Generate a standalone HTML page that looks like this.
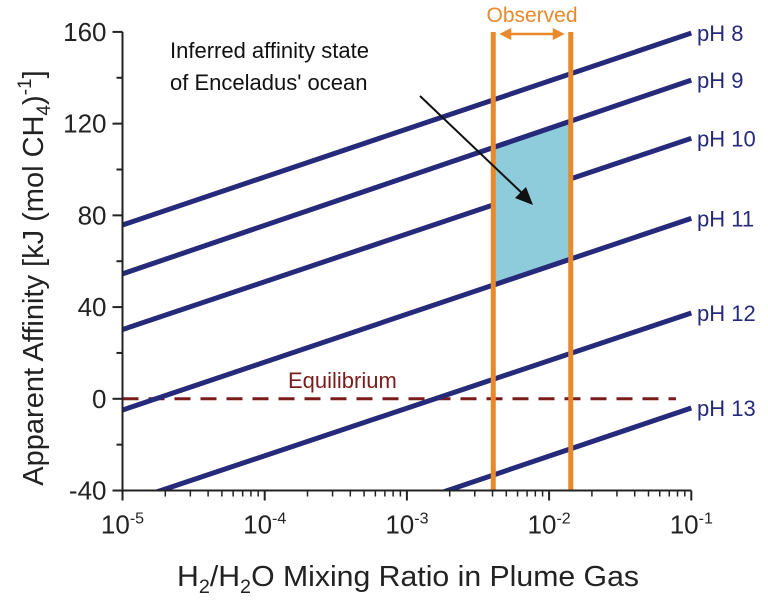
<!DOCTYPE html>
<html><head><meta charset="utf-8"><style>
body{margin:0;background:#fff;}
svg{display:block;font-family:"Liberation Sans",Arial,sans-serif;}
</style></head><body>
<svg id="chart" width="768" height="603" viewBox="0 0 768 603" xmlns="http://www.w3.org/2000/svg">
<defs><clipPath id="plotclip"><rect x="122" y="20" width="580" height="471"/></clipPath></defs>
<g id="lines" clip-path="url(#plotclip)"></g>
<g id="fill" clip-path="url(#plotclip)"></g>
<g id="edges" clip-path="url(#plotclip)"></g>
<g id="obs" clip-path="url(#plotclip)"></g>
<g id="axes"></g>
<g id="labels"></g>
<text x="408" y="586" text-anchor="middle" font-size="29" fill="#222" textLength="462" lengthAdjust="spacingAndGlyphs">H<tspan font-size="19" dy="7">2</tspan><tspan dy="-7">/H</tspan><tspan font-size="19" dy="7">2</tspan><tspan dy="-7">O Mixing Ratio in Plume Gas</tspan></text>
<text transform="translate(43,278) rotate(-90)" text-anchor="middle" font-size="29" fill="#222">Apparent Affinity [kJ (mol CH<tspan font-size="19" dy="7">4</tspan><tspan dy="-7">)</tspan><tspan font-size="19" dy="-12">-1</tspan><tspan dy="12">]</tspan></text>
<text x="170" y="58" font-size="22" fill="#111">Inferred affinity state</text>
<text x="170" y="90" font-size="22" fill="#111">of Enceladus' ocean</text>
<line x1="420" y1="96" x2="524" y2="195" stroke="#111" stroke-width="2"/>
<polygon points="533,205 515,198 526,187" fill="#111"/>
<text x="288" y="388" font-size="22" fill="#7b1c1c">Equilibrium</text>
</svg>
<script>
const phLabels = ["pH 8","pH 9","pH 10","pH 11","pH 12","pH 13"];
const valAtMin = [75.8, 54.5, 30.2, -4.9, -45.6, -88];
const valAtMax = [159.5, 139, 113.6, 78.7, 37.4, -4];
const observedRange = [0.00405, 0.0142];
const yTicks = [-40, 0, 40, 80, 120, 160];
const xDecades = [-5, -4, -3, -2, -1];
const shadeBetween = [1, 3];

const NS = "http://www.w3.org/2000/svg";
const X0 = 122.5, DEC = 142.2, Y0 = 398.8, PPU = 2.293;
const xs = v => X0 + (Math.log10(v) + 5) * DEC;
const ys = v => Y0 - v * PPU;
function el(tag, attrs, parent, text){
  const e = document.createElementNS(NS, tag);
  for (const k in attrs) e.setAttribute(k, attrs[k]);
  if (text !== undefined) e.textContent = text;
  document.getElementById(parent).appendChild(e);
  return e;
}
const valAt = (i, x) => valAtMin[i] + (valAtMax[i] - valAtMin[i]) * (Math.log10(x) + 5) / 4;

{
  const l = el("line", {x1: X0, x2: 676, y1: ys(0), y2: ys(0), stroke: "#7b1c1c", "stroke-width": 3, "stroke-dasharray": "16,10"}, "lines");
  
  
}
phLabels.forEach((lab, i) => {
  const l = el("line", {x1: xs(1e-5), y1: ys(valAtMin[i]), x2: xs(0.1), y2: ys(valAtMax[i]), stroke: "#262a7a", "stroke-width": 5}, "lines");
  
  
  const t = el("text", {x: 697, y: ys(valAtMax[i]) + 8, fill: "#262a7a", "font-size": 22}, "labels", lab);
  
  
});
{
  const [a, b] = observedRange, [i, j] = shadeBetween;
  const pts = [[a, valAt(i, a)], [b, valAt(i, b)], [b, valAt(j, b)], [a, valAt(j, a)]]
    .map(p => xs(p[0]) + "," + ys(p[1])).join(" ");
  const p = el("polygon", {points: pts, fill: "#8ecbdb"}, "fill");
  
  
  [i, j].forEach(k => {
    const e = el("line", {x1: xs(a), y1: ys(valAt(k, a)), x2: xs(b), y2: ys(valAt(k, b)), stroke: "#262a7a", "stroke-width": 5}, "edges");
    
    
  });
}
observedRange.forEach((v, i) => {
  const l = el("line", {x1: xs(v), x2: xs(v), y1: 32, y2: 491, stroke: "#e8892b", "stroke-width": 5}, "obs");
  
  
});
{
  const a = xs(observedRange[0]) + 6, b = xs(observedRange[1]) - 6;
  const l = el("line", {x1: a + 6, x2: b - 6, y1: 34, y2: 34, stroke: "#e8892b", "stroke-width": 2.5}, "labels");
  
  
  el("polygon", {points: `${a},34 ${a+12},28 ${a+12},40`, fill: "#e8892b"}, "labels");
  el("polygon", {points: `${b},34 ${b-12},28 ${b-12},40`, fill: "#e8892b"}, "labels");
  const t = el("text", {x: (a + b) / 2, y: 22, "text-anchor": "middle", fill: "#e8892b", "font-size": 21}, "labels", "Observed");
  
  
}
{
  const ax = el("path", {d: `M${X0},${ys(160)} V${ys(-40)} H${xs(0.1)}`, fill: "none", stroke: "#222", "stroke-width": 2}, "axes");
  
  
  for (let v = -40; v <= 160; v += 20) {
    const major = yTicks.includes(v);
    el("line", {x1: X0 - (major ? 10 : 6), x2: X0, y1: ys(v), y2: ys(v), stroke: "#222", "stroke-width": 2}, "axes");
  }
  yTicks.forEach(v => {
    const t = el("text", {x: X0 - 16, y: ys(v) + 9, "text-anchor": "end", "font-size": 26, fill: "#222"}, "axes", String(v));
    
    
  });
  const yb = ys(-40);
  xDecades.forEach((d, k) => {
    const x = xs(Math.pow(10, d));
    el("line", {x1: x, x2: x, y1: yb, y2: yb + 10, stroke: "#222", "stroke-width": 2}, "axes");
    if (k < xDecades.length - 1) for (let m = 2; m <= 9; m++) {
      const xm = xs(m * Math.pow(10, d));
      el("line", {x1: xm, x2: xm, y1: yb, y2: yb + 6, stroke: "#222", "stroke-width": 1.5}, "axes");
    }
    const t = el("text", {x: x, y: yb + 43, "text-anchor": "middle", "font-size": 26, fill: "#222"}, "axes");
    
    
    t.appendChild(document.createTextNode("10"));
    const s = document.createElementNS(NS, "tspan");
    s.setAttribute("dy", -10); s.setAttribute("font-size", 16); s.textContent = String(d);
    t.appendChild(s);
  });
}
</script>
</body></html>
